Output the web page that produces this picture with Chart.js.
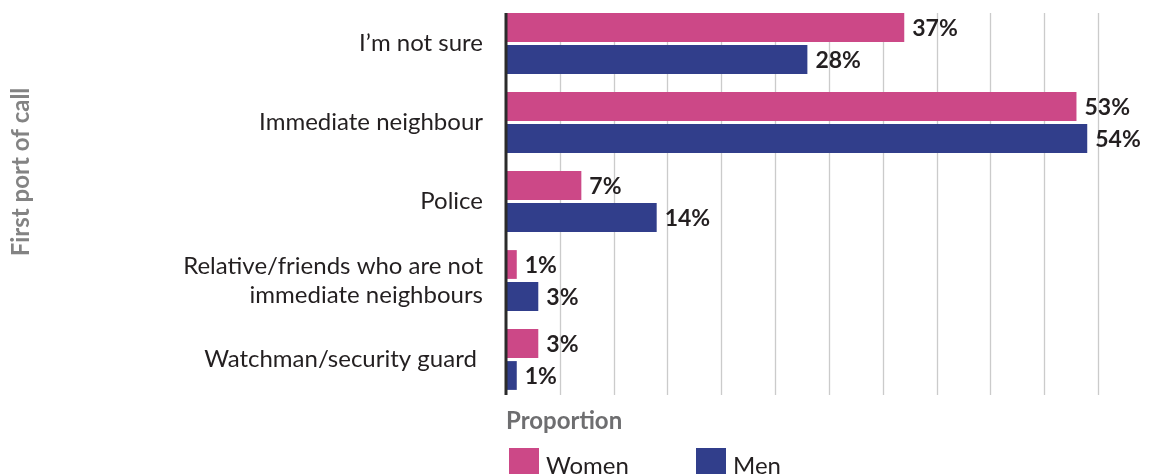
<!DOCTYPE html>
<html>
<head>
<meta charset="utf-8">
<script src="https://cdn.jsdelivr.net/npm/chart.js@4/dist/chart.umd.min.js"></script>
<style>
  html, body { margin: 0; padding: 0; background: #fff; }
  #wrap { position: relative; width: 1149px; height: 474px; overflow: hidden; }
  #chart { position: absolute; left: 0; top: 0; }
  .key { position: absolute; top: 448px; height: 30px; display: flex; align-items: flex-start; font-family: Lato, sans-serif; font-size: 24px; color: #231f20; }
  .key span.box { display: inline-block; width: 30px; height: 30px; margin-right: 7px; }
  .key span.txt { line-height: 30px; margin-top: 2px; }
</style>
</head>
<body>
<div id="wrap">
  <canvas id="chart" width="1149" height="474"></canvas>
  <div class="key" style="left:509px"><span class="box" style="background:#cc4887"></span><span class="txt">Women</span></div>
  <div class="key" style="left:696px"><span class="box" style="background:#313e8b"></span><span class="txt">Men</span></div>
</div>
<script>
// Survey answers: who people would turn to first
const categories = [
  "I’m not sure",
  "Immediate neighbour",
  "Police",
  ["Relative/friends who are not", "immediate neighbours"],
  "Watchman/security guard "
];
const women = [37, 53, 7, 1, 3];
const men = [28, 54, 14, 3, 1];
const seriesNames = ["Women", "Men"];
const gridValues = [5, 10, 15, 20, 25, 30, 35, 40, 45, 50, 55];

const PINK = "#cc4887";
const NAVY = "#313e8b";
const FONT = "Lato, 'Open Sans', sans-serif";

// Vertical gridlines and the left axis rule, kept within the bar band
const frame = {
  id: "frame",
  beforeDatasetsDraw(chart) {
    const { ctx } = chart;
    const x = chart.scales.x;
    ctx.save();
    ctx.strokeStyle = "#cbcbcb";
    ctx.lineWidth = 1.3;
    gridValues.forEach(v => {
      const px = Math.round(x.getPixelForValue(v)) + 0.5;
      ctx.beginPath();
      ctx.moveTo(px, 13);
      ctx.lineTo(px, 395);
      ctx.stroke();
    });
    ctx.restore();
  },
  afterDatasetsDraw(chart) {
    const { ctx } = chart;
    const x = chart.scales.x;
    ctx.save();
    // axis rule at zero
    ctx.fillStyle = "#2b2b2b";
    ctx.fillRect(x.getPixelForValue(0) - 1.5, 13, 3, 382);
    // value labels at the end of each bar
    ctx.font = "bold 23px " + FONT;
    ctx.fillStyle = "#231f20";
    ctx.textAlign = "left";
    ctx.textBaseline = "middle";
    chart.data.datasets.forEach((ds, i) => {
      chart.getDatasetMeta(i).data.forEach((bar, j) => {
        ctx.fillText(ds.data[j] + "%", bar.x + 8, bar.y + 1);
      });
    });
    // vertical axis title
    ctx.translate(21, 172);
    ctx.rotate(-Math.PI / 2);
    ctx.font = "bold 24px " + FONT;
    ctx.fillStyle = "#838383";
    ctx.textAlign = "center";
    ctx.textBaseline = "middle";
    ctx.fillText("First port of call", 0, 0);
    ctx.restore();
  }
};

new Chart(document.getElementById("chart"), {
  type: "bar",
  data: {
    labels: categories,
    datasets: [
      { label: seriesNames[0], data: women, backgroundColor: PINK },
      { label: seriesNames[1], data: men, backgroundColor: NAVY }
    ]
  },
  options: {
    indexAxis: "y",
    responsive: false,
    animation: false,
    layout: { padding: { top: 4, right: 51, bottom: 38.2, left: 0 } },
    datasets: { bar: { categoryPercentage: 0.81, barPercentage: 0.9 } },
    plugins: { legend: { display: false }, tooltip: { enabled: false } },
    scales: {
      x: {
        min: 0, max: 55,
        ticks: { display: false },
        grid: { display: false, drawTicks: false },
        border: { display: false },
        title: {
          display: true, text: "Proportion", align: "start",
          color: "#6e6e70",
          font: { family: FONT, size: 24, weight: "bold", lineHeight: 1.2 },
          padding: { top: 8, bottom: 0 }
        }
      },
      y: {
        afterFit(s) {
          s.width = 506;
          s.paddingTop = 0;
          s.paddingBottom = 0;
        },
        grid: { display: false, drawTicks: false },
        border: { display: false },
        ticks: {
          padding: 23,
          color: "#231f20",
          font: { family: FONT, size: 24, lineHeight: 1.21 }
        }
      }
    }
  },
  plugins: [frame]
});
</script>
</body>
</html>
